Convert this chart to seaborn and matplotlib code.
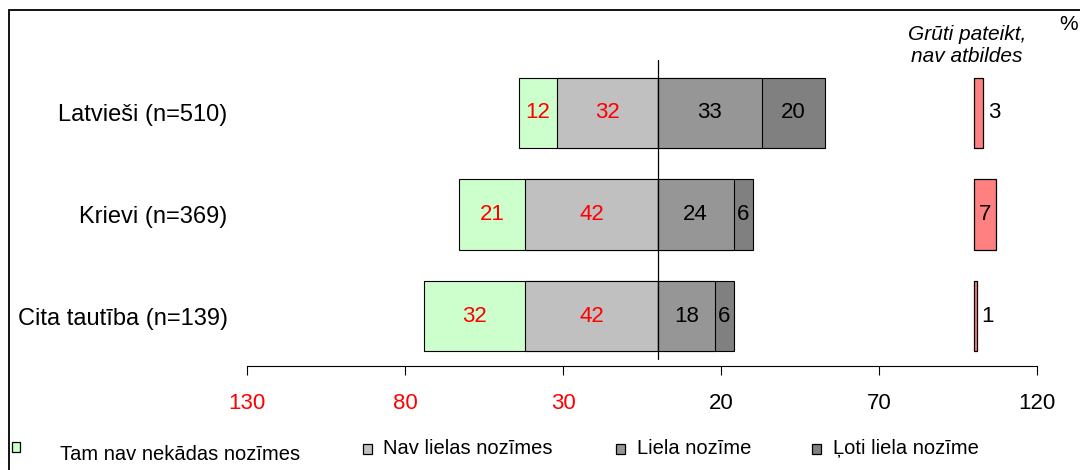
import matplotlib
matplotlib.use("Agg")
import matplotlib.pyplot as plt
import seaborn as sns
import pandas as pd
from matplotlib.patches import Rectangle

# ---- data ----
categories = ["Latvieši (n=510)", "Krievi (n=369)", "Cita tautība (n=139)"]
nav_nekadas = [12, 21, 32]      # Tam nav nekādas nozīmes
nav_lielas = [32, 42, 42]       # Nav lielas nozīmes
liela = [33, 24, 18]            # Liela nozīme
loti_liela = [20, 6, 6]         # Ļoti liela nozīme
gruti = [3, 7, 1]               # Grūti pateikt, nav atbildes
series_names = ["Tam nav nekādas nozīmes", "Nav lielas nozīmes",
                "Liela nozīme", "Ļoti liela nozīme"]
tick_values = [-130, -80, -30, 20, 70, 120]
tick_labels = ["130", "80", "30", "20", "70", "120"]
gruti_title = "Grūti pateikt,\nnav atbildes"
gruti_start = 100

# ---- style ----
sns.set_theme(style="white")
plt.rcParams["font.family"] = ["Liberation Sans", "DejaVu Sans"]
plt.rcParams["text.color"] = "black"
plt.rcParams["xtick.color"] = "black"
plt.rcParams["ytick.color"] = "black"
plt.rcParams["axes.labelcolor"] = "black"

c_green = "#CCFFCC"
c_lgray = "#C0C0C0"
c_gray = "#969696"
c_dgray = "#808080"
c_pink = "#FF8080"
colors = [c_green, c_lgray, c_gray, c_dgray]

df = pd.DataFrame({
    "cat": categories,
    "neg_outer": [-(a + b) for a, b in zip(nav_nekadas, nav_lielas)],
    "neg_inner": [-b for b in nav_lielas],
    "pos_outer": [a + b for a, b in zip(liela, loti_liela)],
    "pos_inner": liela,
})

W, H = 1080, 470
fig = plt.figure(figsize=(W / 100, H / 100), dpi=100)
ax = fig.add_axes([247 / W, 1 - 366 / H, 790 / W, 306 / H])

bw = 0.69
common = dict(data=df, y="cat", orient="h", saturation=1, width=bw,
              edgecolor="black", linewidth=0.8, errorbar=None, ax=ax)
sns.barplot(x="neg_outer", color=c_green, **common)
sns.barplot(x="neg_inner", color=c_lgray, **common)
sns.barplot(x="pos_outer", color=c_dgray, **common)
sns.barplot(x="pos_inner", color=c_gray, **common)

ypos = list(range(len(categories)))
ax.barh(ypos, gruti, left=gruti_start, height=bw, color=c_pink,
        edgecolor="black", linewidth=0.9)

fs = 16
for i in ypos:
    g, l, li, lo = nav_nekadas[i], nav_lielas[i], liela[i], loti_liela[i]
    ax.text(-(l + g / 2), i, str(g), ha="center", va="center", color="red", fontsize=fs)
    ax.text(-l / 2, i, str(l), ha="center", va="center", color="red", fontsize=fs)
    ax.text(li / 2, i, str(li), ha="center", va="center", color="black", fontsize=fs)
    ax.text(li + lo / 2, i, str(lo), ha="center", va="center", color="black", fontsize=fs)
    v = gruti[i]
    if v >= 5:
        ax.text(gruti_start + v / 2, i, str(v), ha="center", va="center", fontsize=fs)
    else:
        ax.text(gruti_start + v + 1.5, i, str(v), ha="left", va="center", fontsize=fs)

ax.axvline(0, ymin=0.023, ymax=1, color="black", lw=0.9)

ax.set_xlim(-130, 120)
ax.set_ylim(2.49, -0.52)
ax.set_xticks(tick_values)
ax.set_xticklabels(tick_labels)
for t, v in zip(ax.get_xticklabels(), tick_values):
    t.set_color("red" if v < 0 else "black")
ax.tick_params(axis="x", bottom=True, direction="out", length=6.5, width=0.8,
               color="black", pad=13, labelsize=fs)
ax.set_yticks(ypos)
ax.set_yticklabels(categories)
ax.tick_params(axis="y", length=0, pad=14, labelsize=17)
ax.set_xlabel("")
ax.set_ylabel("")
for s in ["top", "right", "left"]:
    ax.spines[s].set_visible(False)
ax.spines["bottom"].set_color("black")
ax.spines["bottom"].set_linewidth(0.8)

# header texts
fig.text(967 / W, 1 - 45 / H, gruti_title, ha="center", va="center",
         style="italic", fontsize=15, linespacing=1.2)
fig.text(1078 / W, 1 - 24 / H, "%", ha="right", va="center", fontsize=15)

# frame
fig.add_artist(Rectangle((9 / W, -0.5), 2, 1 - 10 / H + 0.5, fill=False,
                         edgecolor="black", lw=1.3, transform=fig.transFigure))

# legend (manual)
leg = [
    (12, 442, 8, 10, 60, 454),
    (363, 444, 9, 10, 383, 449),
    (616, 444, 9, 10, 637, 449),
    (812, 444, 9, 10, 833, 449),
]
for (bx, by, bwid, bh, tx, ty), name, col in zip(leg, series_names, colors):
    fig.add_artist(Rectangle((bx / W, 1 - (by + bh) / H), bwid / W, bh / H,
                             facecolor=col, edgecolor="black", lw=0.9,
                             transform=fig.transFigure))
    fig.text(tx / W, 1 - ty / H, name, ha="left", va="center", fontsize=14.5)

fig.savefig("out.png", dpi=100)
